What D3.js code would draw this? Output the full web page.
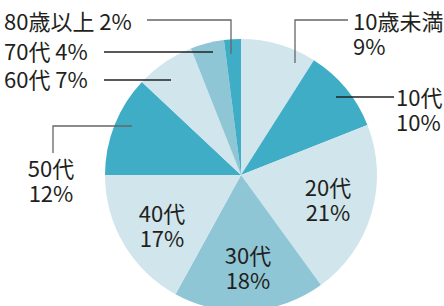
<!DOCTYPE html>
<html><head><meta charset="utf-8">
<script src="https://cdn.jsdelivr.net/npm/d3@7"></script>
<style>html,body{margin:0;padding:0;background:#fff;overflow:hidden}</style>
</head><body>
<svg id="c" width="444" height="306"></svg>
<script>
const categories = ["10歳未満","10代","20代","30代","40代","50代","60代","70代","80歳以上"];
const values = [9,10,21,18,17,12,7,4,2];
const colorKeys = ["light","teal","light","mid","light","teal","light","mid","teal"];

const palette = {light:"#d1e5ec", teal:"#40adc6", mid:"#8fc6d5"};
const svg = d3.select("#c");
const cx = 241, cy = 175, R = 136;
const g = svg.append("g").attr("transform",`translate(${cx},${cy})`);
const pie = d3.pie().sort(null).value(d=>d.v);
const arc = d3.arc().innerRadius(0).outerRadius(R);
const data = categories.map((c,i)=>({c, v:values[i], k:colorKeys[i]}));
g.selectAll("path").data(pie(data)).join("path")
  .attr("d",arc).attr("fill",d=>palette[d.data.k]);

const font = "'Noto Sans CJK JP','Noto Sans',sans-serif";
const txtColor = "#231f20";
const fs = 22;
// label layout (absolute coords)
const layout = [
  {anchor:"start", x:353, y:22, leader:[[295,63],[295,20],[348,20]], lc:"#666"},
  {anchor:"start", x:396, y:98, leader:[[336,97],[394,97]], lc:"#222"},
  {anchor:"middle", x:328, y:188},
  {anchor:"middle", x:248, y:256},
  {anchor:"middle", x:162, y:214},
  {anchor:"middle", x:51, y:169, leader:[[132,126],[53,126],[53,153]], lc:"#666"},
  {single:true, anchor:"start", x:4, y:80, leader:[[104,80],[171,80]], lc:"#222"},
  {single:true, anchor:"start", x:4, y:52, leader:[[104,52],[213,52]], lc:"#222"},
  {single:true, anchor:"start", x:4, y:22, leader:[[147,20],[231,20],[231,54]], lc:"#666"}
];
const line = d3.line();
layout.forEach((L,i)=>{
  if(L.leader){
    svg.append("path").attr("d",line(L.leader)).attr("fill","none")
      .attr("stroke",L.lc).attr("stroke-width",1.3);
  }
  const t1 = categories[i], t2 = values[i]+"%";
  const t = svg.append("text").attr("text-anchor",L.anchor).attr("font-family",font)
    .attr("font-size",fs).attr("fill",txtColor);
  if(L.single){
    t.attr("x",L.x).attr("y",L.y).attr("dy","0.35em").text(t1+" "+t2);
  } else {
    t.append("tspan").attr("x",L.x).attr("y",L.y).attr("dy","0.35em").text(t1);
    t.append("tspan").attr("x",L.x).attr("y",L.y+25).attr("dy","0.35em").text(t2);
  }
});
</script>
</body></html>
